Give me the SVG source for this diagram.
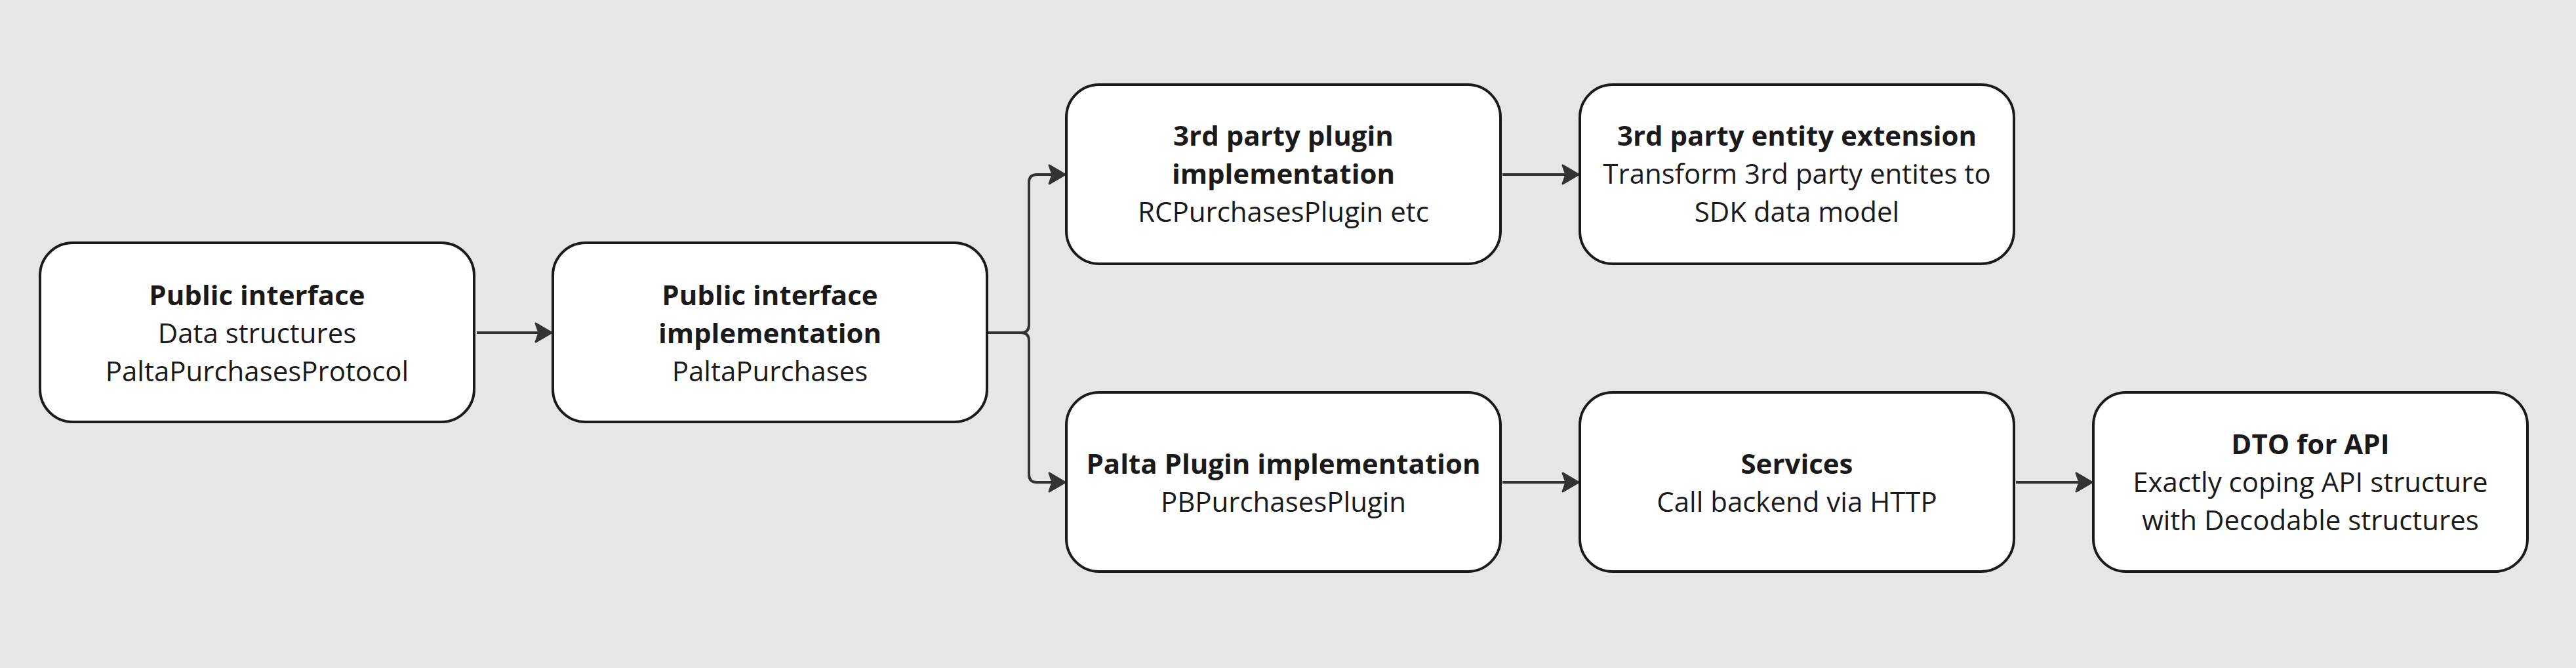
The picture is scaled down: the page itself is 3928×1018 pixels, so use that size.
<svg xmlns="http://www.w3.org/2000/svg" width="3928" height="1018" viewBox="0 0 3928 1018">
<style>
.box{fill:#ffffff;stroke:#1a1a1a;stroke-width:4}
.t{font-family:"Open Sans","Noto Sans","Liberation Sans",sans-serif;font-size:42px;fill:#1a1a1a;text-anchor:middle}
.b{font-weight:bold}
.c{fill:none;stroke:#333333;stroke-width:4}
</style>
<defs>
<marker id="ah" viewBox="-3 -3 32 36" refX="24" refY="15" markerWidth="32" markerHeight="36" markerUnits="userSpaceOnUse" orient="auto">
<path d="M1,1 L25,15 L1,29 L6,15 z" fill="#333333" stroke="#333333" stroke-width="3" stroke-linejoin="round"/>
</marker>
</defs>
<rect width="3928" height="1018" fill="#e6e6e6"/>
<g id="connectors">
<path class="c" d="M727,507 L840,507" marker-end="url(#ah)"/>
<path class="c" d="M1507,507 L1557,507 Q1569,507 1569,495 L1569,278 Q1569,266 1581,266 L1623,266" marker-end="url(#ah)"/>
<path class="c" d="M1507,507 L1557,507 Q1569,507 1569,519 L1569,723 Q1569,735 1581,735 L1623,735" marker-end="url(#ah)"/>
<path class="c" d="M2291,266 L2406,266" marker-end="url(#ah)"/>
<path class="c" d="M2291,735 L2406,735" marker-end="url(#ah)"/>
<path class="c" d="M3074,735 L3189,735" marker-end="url(#ah)"/>
</g>
<g id="public-interface">
<rect class="box" x="61" y="370" width="662" height="273" rx="50"/>
<text class="t b" x="392" y="465">Public interface</text>
<text class="t" x="392" y="523">Data structures</text>
<text class="t" x="392" y="581">PaltaPurchasesProtocol</text>
</g>
<g id="public-interface-impl">
<rect class="box" x="843" y="370" width="662" height="273" rx="50"/>
<text class="t b" x="1174" y="465">Public interface</text>
<text class="t b" x="1174" y="523">implementation</text>
<text class="t" x="1174" y="581">PaltaPurchases</text>
</g>
<g id="third-party-plugin">
<rect class="box" x="1626" y="129" width="662" height="273" rx="50"/>
<text class="t b" x="1957" y="222">3rd party plugin</text>
<text class="t b" x="1957" y="280">implementation</text>
<text class="t" x="1957" y="338">RCPurchasesPlugin etc</text>
</g>
<g id="third-party-entity">
<rect class="box" x="2409" y="129" width="662" height="273" rx="50"/>
<text class="t b" x="2740" y="222">3rd party entity extension</text>
<text class="t" x="2740" y="280">Transform 3rd party entites to</text>
<text class="t" x="2740" y="338">SDK data model</text>
</g>
<g id="palta-plugin">
<rect class="box" x="1626" y="598" width="662" height="273" rx="50"/>
<text class="t b" x="1957" y="722">Palta Plugin implementation</text>
<text class="t" x="1957" y="780">PBPurchasesPlugin</text>
</g>
<g id="services">
<rect class="box" x="2409" y="598" width="662" height="273" rx="50"/>
<text class="t b" x="2740" y="722">Services</text>
<text class="t" x="2740" y="780">Call backend via HTTP</text>
</g>
<g id="dto">
<rect class="box" x="3192" y="598" width="662" height="273" rx="50"/>
<text class="t b" x="3523" y="692">DTO for API</text>
<text class="t" x="3523" y="750">Exactly coping API structure</text>
<text class="t" x="3523" y="808">with Decodable structures</text>
</g>
</svg>
